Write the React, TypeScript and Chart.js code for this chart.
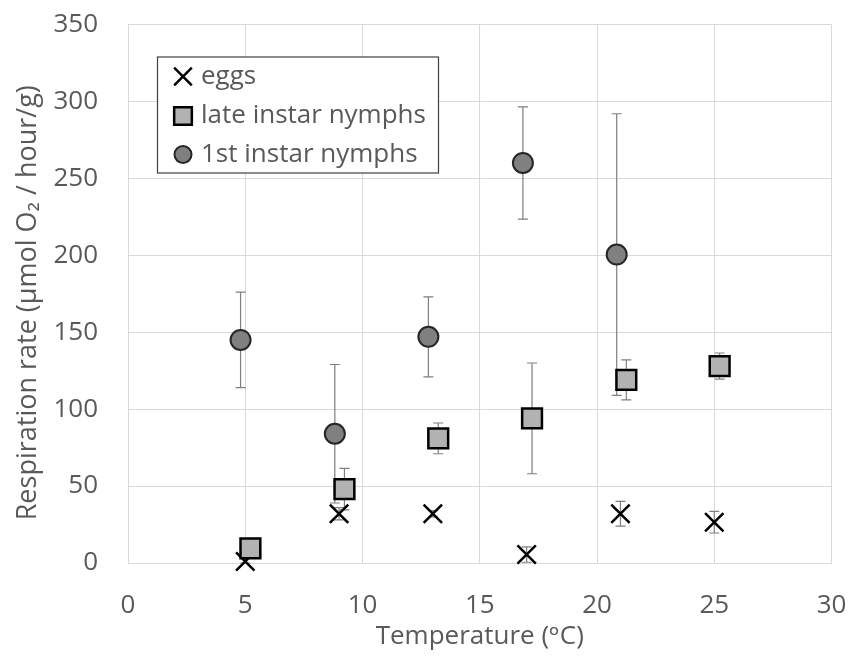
import React, { useEffect, useRef } from "react";
import { Chart, registerables } from "chart.js";
import { drawPoint } from "chart.js/helpers";

Chart.register(...registerables);

// Respiration rate (µmol O2 / hour / g) by temperature (°C), mean ± error
const eggTemps = [5, 9, 13, 17, 21, 25];
const eggRates = [1, 32, 32, 5.5, 32, 26.5];
const eggErrors = [2, 4, 2, 5, 8, 7];

const lateTemps = [5.22, 9.23, 13.23, 17.23, 21.25, 25.23];
const lateRates = [9.5, 48, 81, 94, 119, 128];
const lateErrors = [3, 13.5, 10, 36, 13, 8.5];

const firstTemps = [4.8, 8.82, 12.81, 16.84, 20.84];
const firstRates = [145, 84, 147, 260, 200.5];
const firstErrors = [31, 45, 26, 36.5, 91.5];

const seriesNames = ["eggs", "late instar nymphs", "1st instar nymphs"];
const xTitle = "Temperature (ᵒC)";
const yTitle = "Respiration rate (µmol O₂ / hour/g)";

const FONT = "'Open Sans', 'DejaVu Sans', sans-serif";
const TEXT = "#595959";
const GRID = "#d9d9d9";

const toPoints = (xs: number[], ys: number[]) => xs.map((x, i) => ({ x, y: ys[i] }));

// vertical error bars with caps, drawn behind the markers
const errorBarPlugin = {
  id: "errorBars",
  beforeDatasetsDraw(chart: any) {
    const { ctx, scales } = chart;
    const xs = scales.x;
    const ys = scales.y;
    ctx.save();
    ctx.strokeStyle = "#7f7f7f";
    ctx.lineWidth = 1.2;
    chart.data.datasets.forEach((ds: any) => {
      const errs: number[] = ds.errors || [];
      ds.data.forEach((p: any, i: number) => {
        const e = errs[i];
        if (!e) return;
        const px = xs.getPixelForValue(p.x);
        const top = ys.getPixelForValue(p.y + e);
        const bot = ys.getPixelForValue(Math.max(0, p.y - e));
        const cap = 5;
        ctx.beginPath();
        ctx.moveTo(px, top);
        ctx.lineTo(px, bot);
        ctx.moveTo(px - cap, top);
        ctx.lineTo(px + cap, top);
        ctx.moveTo(px - cap, bot);
        ctx.lineTo(px + cap, bot);
        ctx.stroke();
      });
    });
    ctx.restore();
  },
};

// rotated y-axis title, set a little below the plot's centre line
const yTitlePlugin = {
  id: "yTitle",
  afterDraw(chart: any) {
    const { ctx, chartArea } = chart;
    ctx.save();
    ctx.translate(20, (chartArea.top + chartArea.bottom) / 2 + 9);
    ctx.rotate(-Math.PI / 2);
    ctx.fillStyle = TEXT;
    ctx.font = `27px ${FONT}`;
    ctx.textAlign = "center";
    ctx.textBaseline = "middle";
    ctx.fillText(yTitle, 0, 0);
    ctx.restore();
  },
};

// boxed legend inside the plot's upper left corner
const insideLegendPlugin = {
  id: "insideLegend",
  afterDraw(chart: any) {
    const { ctx, chartArea } = chart;
    const boxX = chartArea.left + 29;
    const boxY = chartArea.top + 32;
    const boxW = 281;
    const boxH = 116;
    ctx.save();
    ctx.fillStyle = "#ffffff";
    ctx.fillRect(boxX, boxY, boxW, boxH);
    ctx.strokeStyle = "#404040";
    ctx.lineWidth = 1.2;
    ctx.strokeRect(boxX + 0.5, boxY + 0.5, boxW, boxH);

    const legendMarks = [
      { style: "crossRot", radius: 12.5, border: 2.5 },
      { style: "rect", radius: 12.5, border: 2.5 },
      { style: "circle", radius: 8.5, border: 2 },
    ];
    const rowY = [20, 59.5, 98];
    [0, 1, 2].forEach((k) => {
      const ds = chart.data.datasets[k];
      const m = legendMarks[k];
      const cy = boxY + rowY[k];
      ctx.fillStyle = ds.backgroundColor;
      ctx.strokeStyle = ds.borderColor;
      ctx.lineWidth = m.border;
      drawPoint(ctx, { pointStyle: m.style, radius: m.radius, rotation: 0, borderWidth: m.border } as any, boxX + 26, cy);
      ctx.fillStyle = TEXT;
      ctx.font = `26px ${FONT}`;
      ctx.textBaseline = "middle";
      ctx.textAlign = "left";
      ctx.fillText(ds.label, boxX + 44, cy);
    });
    ctx.restore();
  },
};

export default function App() {
  const canvasRef = useRef<HTMLCanvasElement | null>(null);

  useEffect(() => {
    if (!canvasRef.current) return;
    const chart = new Chart(canvasRef.current, {
      type: "scatter",
      data: {
        datasets: [
          {
            label: seriesNames[0],
            data: toPoints(eggTemps, eggRates),
            errors: eggErrors,
            pointStyle: "crossRot",
            pointRadius: 13,
            pointBorderWidth: 2.5,
            borderColor: "#000000",
            backgroundColor: "#000000",
            clip: false,
            order: 3,
          } as any,
          {
            label: seriesNames[1],
            data: toPoints(lateTemps, lateRates),
            errors: lateErrors,
            pointStyle: "rect",
            pointRadius: 14,
            pointBorderWidth: 2.5,
            borderColor: "#000000",
            backgroundColor: "#b2b2b2",
            clip: false,
            order: 1,
          } as any,
          {
            label: seriesNames[2],
            data: toPoints(firstTemps, firstRates),
            errors: firstErrors,
            pointStyle: "circle",
            pointRadius: 10,
            pointBorderWidth: 2,
            borderColor: "#262626",
            backgroundColor: "#808080",
            clip: false,
            order: 2,
          } as any,
        ],
      },
      options: {
        animation: false,
        responsive: false,
        maintainAspectRatio: false,
        layout: { padding: { top: 13, right: 12, left: 0, bottom: 0 } },
        plugins: {
          legend: { display: false },
          tooltip: { enabled: false },
        },
        scales: {
          x: {
            type: "linear",
            min: 0,
            max: 30,
            afterFit(scale: any) {
              scale.height = 89;
              scale.paddingLeft = 0;
              scale.paddingRight = 0;
            },
            ticks: {
              stepSize: 5,
              color: TEXT,
              font: { family: FONT, size: 26 },
              padding: 27,
              maxRotation: 0,
            },
            grid: { color: GRID, lineWidth: 1, drawTicks: false },
            border: { display: true, color: GRID },
            title: {
              display: true,
              text: xTitle,
              color: TEXT,
              font: { family: FONT, size: 26 },
              padding: { top: 0, bottom: 0 },
            },
          },
          y: {
            type: "linear",
            min: 0,
            max: 350,
            afterFit(scale: any) {
              scale.width = 120;
              scale.paddingTop = 0;
              scale.paddingBottom = 0;
            },
            ticks: {
              stepSize: 50,
              color: TEXT,
              font: { family: FONT, size: 26 },
              padding: 30,
            },
            grid: { color: GRID, lineWidth: 1, drawTicks: false },
            border: { display: true, color: GRID },
            title: { display: false },
          },
        },
      } as any,
      plugins: [errorBarPlugin, insideLegendPlugin, yTitlePlugin],
    });
    return () => chart.destroy();
  }, []);

  return (
    <div style={{ width: 840, height: 644 }}>
      <canvas ref={canvasRef} width={840} height={644} style={{ display: "block" }} />
    </div>
  );
}
